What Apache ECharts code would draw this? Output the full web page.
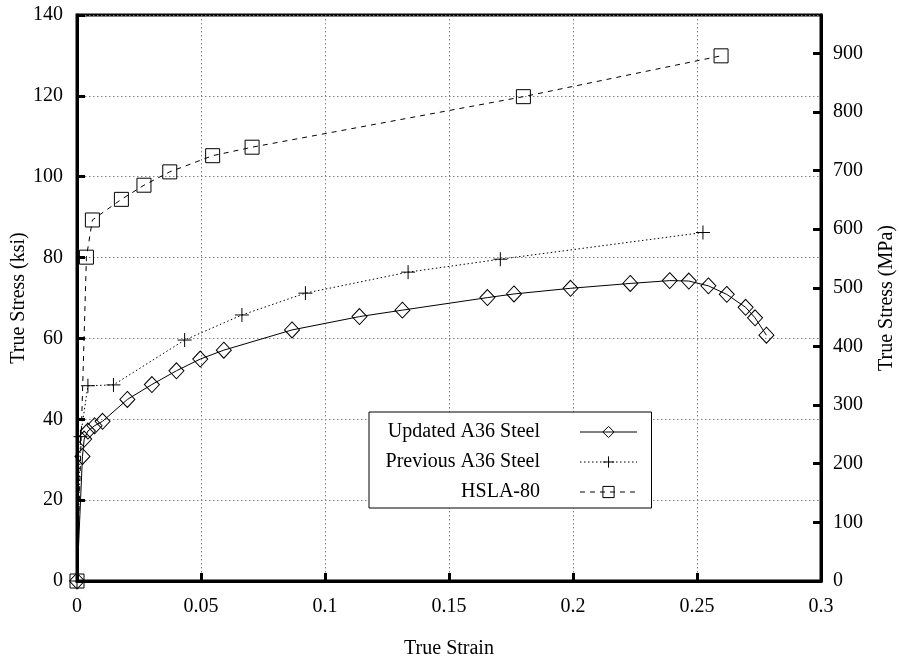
<!DOCTYPE html>
<html>
<head>
<meta charset="utf-8">
<script src="https://cdn.jsdelivr.net/npm/echarts@6/dist/echarts.min.js"></script>
<style>
html,body{margin:0;padding:0;background:#fff;}
#chart{width:899px;height:659px;}
</style>
</head>
<body>
<div id="chart"></div>
<script>
// ---- data ----
const seriesNames = ['Updated A36 Steel', 'Previous A36 Steel', 'HSLA-80'];

const updatedStrain = [0, 0.0022, 0.0029, 0.0044, 0.0071, 0.0103, 0.0203, 0.0302, 0.0401, 0.0497, 0.0592, 0.0867, 0.1139, 0.1312, 0.1655, 0.1762, 0.199, 0.2231, 0.239, 0.2467, 0.2546, 0.262, 0.2696, 0.2734, 0.278];
const updatedStress = [0, 30.8, 35.1, 37.1, 38.4, 39.5, 44.9, 48.6, 52.0, 54.9, 57.1, 62.1, 65.4, 67.0, 70.1, 71.0, 72.4, 73.6, 74.3, 74.2, 73.0, 70.9, 67.7, 65.1, 60.8];

const previousStrain = [0, 0.0014, 0.0044, 0.0147, 0.0434, 0.0665, 0.0921, 0.1335, 0.1707, 0.2524];
const previousStress = [0, 35.7, 48.3, 48.5, 59.6, 65.8, 71.2, 76.4, 79.6, 86.2];

const hslaStrain = [0, 0.0038, 0.0062, 0.0179, 0.027, 0.0374, 0.0547, 0.0706, 0.180, 0.2597];
const hslaStress = [0, 80.1, 89.3, 94.4, 97.9, 101.2, 105.2, 107.3, 119.8, 129.9];

// axis ranges / tick steps
const xRange = [0, 0.3], xStep = 0.05;
const ksiRange = [0, 140], ksiStep = 20;
const mpaPerKsi = 6.894757;
const mpaStep = 100;

// ---- chart ----
const FONT = 'Liberation Serif';
const pairs = (xs, ys) => xs.map((x, i) => [x, ys[i]]);
const chart = echarts.init(document.getElementById('chart'), null, {renderer: 'canvas'});

const tickStyle = {show: true, inside: true, length: 8, lineStyle: {color: '#000', width: 3}};
const lineAx = {show: true, lineStyle: {color: '#000', width: 3}};
const labelStyle = {color: '#000', fontFamily: FONT, fontSize: 20};
const gridDots = {show: true, lineStyle: {color: '#808080', width: 1, type: [1.5, 2.5]}};

const option = {
  backgroundColor: '#fff',
  animation: false,
  textStyle: {fontFamily: FONT},
  grid: {left: 77, right: 78, top: 15, bottom: 78, outerBoundsMode: 'none', containLabel: false,
         show: true, borderColor: '#000', borderWidth: 3, backgroundColor: 'transparent'},
  legend: {
    orient: 'vertical',
    left: 369, top: 412,
    align: 'right',
    data: seriesNames,
    itemWidth: 57, itemHeight: 14, itemGap: 10,
    padding: [10, 14, 6, 10],
    borderColor: '#000', borderWidth: 1,
    backgroundColor: '#fff',
    itemStyle: {borderWidth: 1},
    lineStyle: {width: 1},
    formatter: name => '{a|' + name + '}',
    textStyle: {
      color: '#000', fontFamily: FONT, fontSize: 20,
      rich: {a: {width: 161, align: 'right', fontFamily: FONT, fontSize: 20, lineHeight: 20, color: '#000', padding: [0, 35, 0, 0]}}
    },
    selectedMode: false
  },
  xAxis: [{
    type: 'value', position: 'bottom',
    min: xRange[0], max: xRange[1], interval: xStep,
    name: 'True Strain', nameLocation: 'middle', nameGap: 58,
    nameTextStyle: labelStyle,
    axisLine: lineAx, axisTick: tickStyle,
    axisLabel: Object.assign({margin: 16}, labelStyle),
    splitLine: gridDots
  }],
  yAxis: [{
    type: 'value', position: 'left',
    min: ksiRange[0], max: ksiRange[1], interval: ksiStep,
    name: 'True Stress (ksi)', nameLocation: 'middle', nameGap: 48, nameMoveOverlap: false,
    nameTextStyle: labelStyle,
    axisLine: lineAx, axisTick: tickStyle,
    axisLabel: Object.assign({margin: 14}, labelStyle),
    splitLine: gridDots
  }, {
    type: 'value', position: 'right',
    min: ksiRange[0] * mpaPerKsi, max: ksiRange[1] * mpaPerKsi, interval: mpaStep,
    name: 'True Stress (MPa)', nameLocation: 'middle', nameGap: 56,
    nameTextStyle: labelStyle,
    axisLine: lineAx, axisTick: tickStyle,
    axisLabel: Object.assign({margin: 12, showMaxLabel: false}, labelStyle),
    splitLine: {show: false}
  }],
  series: [{
    name: seriesNames[0], type: 'line', clip: false, z: 3,
    data: pairs(updatedStrain, updatedStress),
    symbol: 'diamond', symbolSize: [15, 16],
    itemStyle: {color: 'rgba(0,0,0,0)', borderColor: '#000', borderWidth: 1},
    lineStyle: {color: '#000', width: 1, type: 'solid'},
    emphasis: {disabled: true}
  }, {
    name: seriesNames[1], type: 'line', clip: false, z: 3,
    data: pairs(previousStrain, previousStress),
    symbol: 'path://M0,7L14,7M7,0L7,14', symbolSize: 14,
    itemStyle: {color: 'rgba(0,0,0,0)', borderColor: '#000', borderWidth: 1},
    lineStyle: {color: '#000', width: 1, type: [1.5, 2.5]},
    emphasis: {disabled: true}
  }, {
    name: seriesNames[2], type: 'line', clip: false, z: 3,
    data: pairs(hslaStrain, hslaStress),
    symbol: 'rect', symbolSize: 14,
    itemStyle: {color: 'rgba(0,0,0,0)', borderColor: '#000', borderWidth: 1},
    lineStyle: {color: '#000', width: 1, type: [5, 5]},
    emphasis: {disabled: true}
  }]
};
chart.setOption(option);
</script>
</body>
</html>
